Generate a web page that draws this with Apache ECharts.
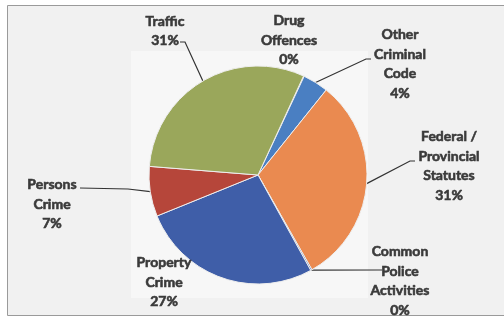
<!DOCTYPE html>
<html>
<head>
<meta charset="utf-8">
<script src="https://cdn.jsdelivr.net/npm/echarts@6/dist/echarts.min.js"></script>
<style>
html,body{margin:0;padding:0;background:#ffffff;}
#chart{width:504px;height:320px;}
</style>
</head>
<body>
<div id="chart"></div>
<script>
// ---- data ----
const categories = ['Drug Offences', 'Other Criminal Code', 'Federal / Provincial Statutes', 'Common Police Activities', 'Property Crime', 'Persons Crime', 'Traffic'];
const labelNames = ['Drug\nOffences', 'Other\nCriminal\nCode', 'Federal /\nProvincial\nStatutes', 'Common\nPolice\nActivities', 'Property\nCrime', 'Persons\nCrime', 'Traffic'];
const shares = [0.1, 3.8, 31.0, 0.2, 26.9, 7.4, 30.6];

// ---- styling / layout (not data) ----
const colors = ['#4a7fc2', '#4a7fc2', '#ea8a50', '#3f5ea8', '#3f5ea8', '#b6463a', '#9aa75b'];
// label block centres
const labelPos = [[289, 40], [400, 64], [449, 166], [400, 281], [164, 282], [52, 204], [165, 31]];
// leader line bend and end points (null = no leader)
const leaders = [null, [[366, 59], [371, 59]], [[410, 161], [415, 161]], [[378, 270], [382, 270]], null, [[128, 189], [80, 188]], [[185, 42], [180, 42]]];

const chart = echarts.init(document.getElementById('chart'), null, {renderer: 'canvas'});
chart.setOption({
  backgroundColor: '#ffffff',
  animation: false,
  graphic: [
    {type: 'rect', shape: {x: 7.5, y: 5.5, width: 500, height: 310}, style: {fill: '#f1f1f1', stroke: '#9a9a9a', lineWidth: 1}, z: -10},
    {type: 'rect', shape: {x: 131, y: 51, width: 237, height: 247}, style: {fill: '#f7f7f7'}, z: -9}
  ],
  series: [{
    type: 'pie',
    center: [258, 175],
    radius: 109,
    startAngle: 65.3,
    clockwise: true,
    percentPrecision: 0,
    avoidLabelOverlap: false,
    minShowLabelAngle: 0,
    data: categories.map((c, i) => ({
      name: c,
      value: shares[i],
      itemStyle: {color: colors[i]},
      labelLine: {show: leaders[i] !== null}
    })),
    itemStyle: {borderColor: '#eeeeee', borderWidth: 1},
    label: {
      show: true,
      position: 'outside',
      formatter: p => labelNames[p.dataIndex] + '\n' + p.percent + '%',
      fontFamily: 'Lato',
      fontWeight: 'bold',
      fontSize: 14,
      lineHeight: 19.5,
      color: '#3a3a3a',
      textBorderColor: '#3a3a3a',
      textBorderWidth: 0.6,
      align: 'center'
    },
    labelLine: {show: true, length: 10, length2: 10, smooth: false, lineStyle: {color: '#333333', width: 1.2}},
    labelLayout: function (params) {
      const i = params.dataIndex;
      const pos = labelPos[i];
      const out = {x: pos[0], y: pos[1], align: 'center', verticalAlign: 'middle'};
      if (leaders[i] && params.labelLinePoints) {
        const p0 = params.labelLinePoints[0];
        out.labelLinePoints = [[p0[0], p0[1]], leaders[i][0], leaders[i][1]];
      }
      return out;
    }
  }]
});
</script>
</body>
</html>
